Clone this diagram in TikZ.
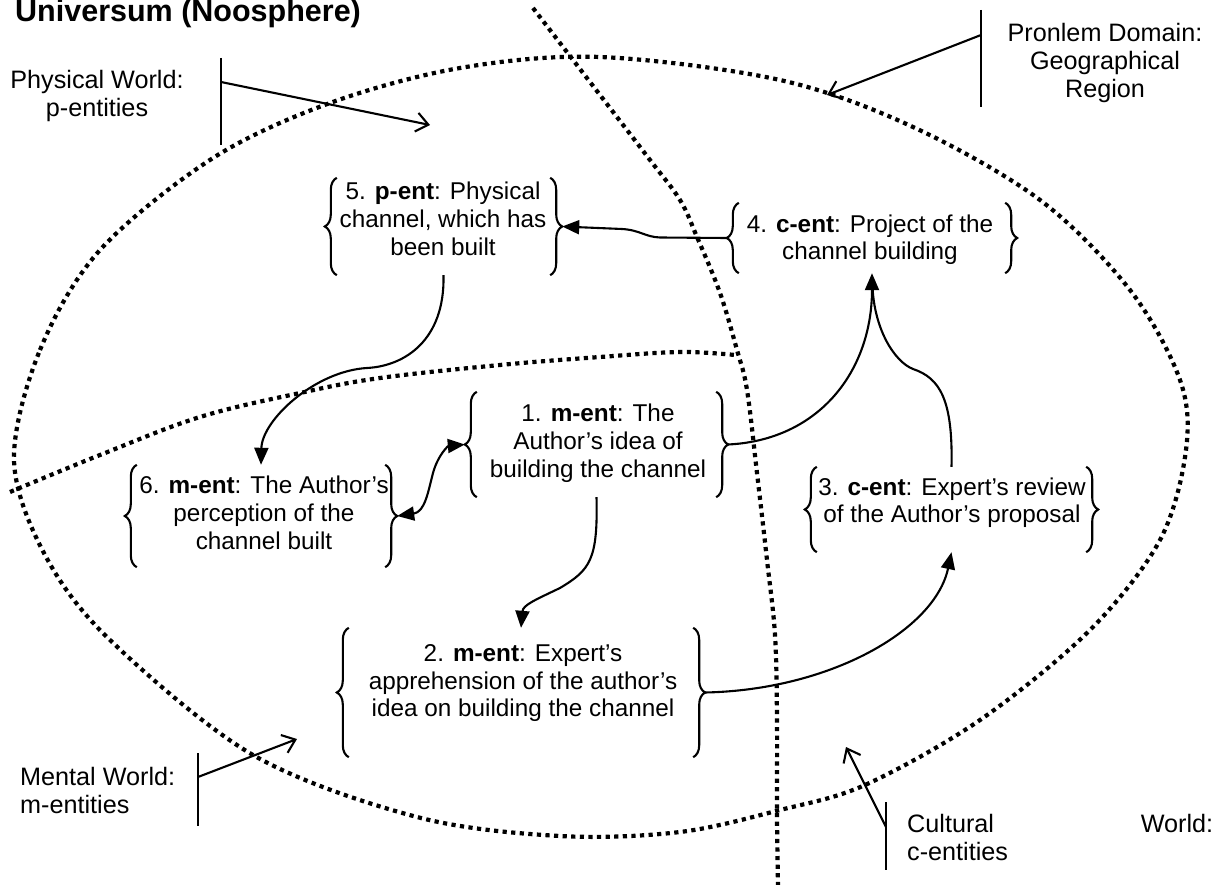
\documentclass[tikz,border=0pt]{standalone}
\usepackage{fontspec}
\setmainfont{Liberation Sans}
\usetikzlibrary{arrows.meta,decorations.pathreplacing}
\begin{document}
\begin{tikzpicture}[x=1pt,y=-1pt,
  font=\fontsize{24.3}{27.6}\selectfont,
  dotline/.style={line width=4.2pt, dash pattern=on 4.2pt off 4.4pt},
  line/.style={line width=2.1pt},
  conn/.style={line width=2.1pt, -{Triangle[length=17pt,width=14pt]}},
  conn2/.style={line width=2.1pt, {Triangle[length=17pt,width=14pt]}-{Triangle[length=17pt,width=14pt]}},
  ptr/.style={line width=2.1pt, -{Straight Barb[length=12pt,width=19pt]}},
  bx/.style={draw=none, inner sep=0pt, rectangle},
  txt/.style={align=center, inner sep=0pt},
  lbltxt/.style={align=center, inner sep=0pt, font=\fontsize{25.2}{28}\selectfont},
  brc/.style={decorate, decoration={brace, amplitude=12pt, aspect=0.5}, line width=2.1pt}
]
\useasboundingbox (0,0) rectangle (1227,885);

% dotted boundaries
\draw[dotline] plot[smooth cycle, tension=0.55] coordinates {
  (14,460) (40,350) (100,250) (213,158) (330,103) (460,68) (600,57) (780,80)
  (913,127) (1040,200) (1130,290) (1180,380) (1186,450) (1160,540) (1090,630)
  (980,720) (865,785) (780,810) (680,832) (560,836) (417,817) (253,755)
  (110,640) (45,555)};
\draw[dotline] plot[smooth, tension=0.6] coordinates {
  (533,8) (600,95) (650,160) (680,200) (697,237) (720,293) (737,350) (747,390)
  (757,473) (767,560) (775,635) (777,720) (777,815) (778,885)};
\draw[dotline] plot[smooth, tension=0.6] coordinates {
  (10,492) (100,455) (200,417) (300,393) (380,378) (500,365) (600,357) (680,352) (735,355)};

% title
\node[inner sep=0pt, anchor=base west] (title) at (15,22)
  {\fontsize{30.5}{34}\selectfont\bfseries Universum (Noosphere)};

% world labels
\node[lbltxt] (lphys) at (97,95.75) {Physical World:\\p-entities};
\coordinate (pb1) at (221,58); \coordinate (pb2) at (221,145);
\coordinate (pbm) at (221,82); \coordinate (pbt) at (430,125);
\draw[line] (pb1) -- (pb2);
\draw[ptr] (pbm) -- (pbt);

\node[lbltxt] (lprob) at (1105,63.3) {Pronlem Domain:\\Geographical\\Region};
\coordinate (gb1) at (981,10); \coordinate (gb2) at (981,107);
\coordinate (gbm) at (981,35); \coordinate (gbt) at (827,95);
\draw[line] (gb1) -- (gb2);
\draw[ptr] (gbm) -- (gbt);

\node[lbltxt, align=left, anchor=west] (lment) at (20,790.25) {Mental World:\\m-entities};
\coordinate (mb1) at (198,753); \coordinate (mb2) at (198,826);
\coordinate (mbm) at (198,777); \coordinate (mbt) at (297,739);
\draw[line] (mb1) -- (mb2);
\draw[ptr] (mbm) -- (mbt);

\node[lbltxt, align=left, anchor=west] (lcult) at (907,837.25) {\makebox[306pt][s]{Cultural World:}\\c-entities};
\coordinate (cb1) at (886,802); \coordinate (cb2) at (886,870);
\coordinate (cbm) at (886,827); \coordinate (cbt) at (846,747);
\draw[line] (cb1) -- (cb2);
\draw[ptr] (cbm) -- (cbt);

% entity boxes (brace frames)
\node[bx, minimum width=237pt, minimum height=97pt] (n5) at (443.5,226.5) {};
\node[bx, minimum width=290pt, minimum height=70pt] (n4) at (872,238) {};
\node[bx, minimum width=263pt, minimum height=105pt] (n1) at (596.5,444.5) {};
\node[bx, minimum width=272pt, minimum height=102pt] (n6) at (261,516) {};
\node[bx, minimum width=368pt, minimum height=129pt] (n2) at (521,692.5) {};
\node[bx, minimum width=293pt, minimum height=85pt] (n3) at (951.5,509.5) {};

\foreach \n in {n1,n2,n3,n4,n5,n6}{
  \draw[brc] ([xshift=12pt]\n.south west) -- ([xshift=12pt]\n.north west);
  \draw[brc] ([xshift=-12pt]\n.north east) -- ([xshift=-12pt]\n.south east);
}

\node[txt] (t5) at (443,218.75) {5. \textbf{p-ent}: Physical\\channel, which has\\been built};
\node[txt] (t4) at (870,239.75) {4. \textbf{c-ent}: Project of the\\channel building};
\node[txt] (t1) at (598,443.25) {1. \textbf{m-ent}: The\\Author’s idea of\\building the channel};
\node[txt] (t6) at (264,512.75) {6. \textbf{m-ent}: The Author’s\\perception of the\\channel built};
\node[txt] (t2) at (523,683.25) {2. \textbf{m-ent}: Expert’s\\apprehension of the author’s\\idea on building the channel};
\node[txt] (t3) at (952,502.75) {3. \textbf{c-ent}: Expert’s review\\of the Author’s proposal};

% connectors
\draw[conn] (n4.west) -- (660,237.5) .. controls (645,237) and (640,230) .. (622,229) -- (n5.east);
\draw[conn] (n5.south) .. controls (445,340) and (405,366) .. (367,368) .. controls (315,371) and (262,420) .. (n6.north);
\draw[conn2] (n6.east) .. controls (425,512) and (428,492) .. (433,473) .. controls (438,455) and (448,446) .. (n1.west);
\draw[conn] (n1.south) .. controls (598,560) and (590,570) .. (560,588) .. controls (535,600) and (523,605) .. (n2.north);
\draw[conn] (n2.east) .. controls (830,690) and (935,630) .. (n3.south);
\draw[conn] (n1.east) .. controls (820,440) and (872,370) .. (n4.south);
\draw[line, shorten >=12pt] (n3.north) .. controls (953,400) and (940,378) .. (913,369) .. controls (895,362) and (874,330) .. (n4.south);
\end{tikzpicture}
\end{document}
